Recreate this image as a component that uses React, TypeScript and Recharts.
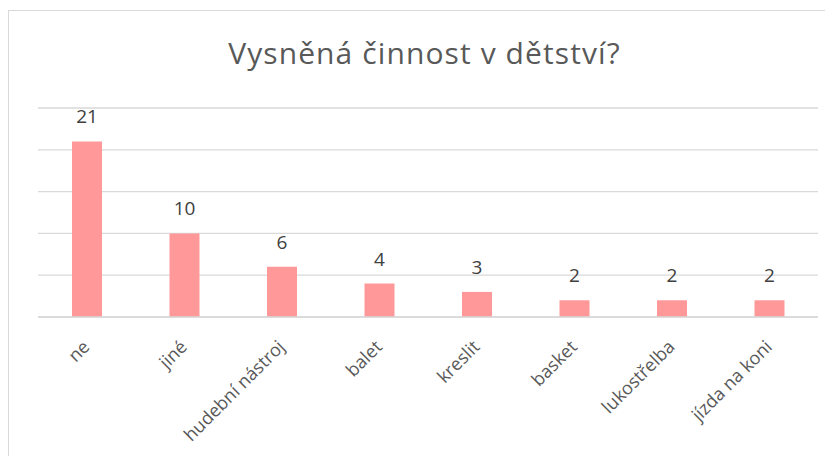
import React from "react";
import { BarChart, Bar, XAxis, YAxis, CartesianGrid, LabelList } from "recharts";

// data
const categories = ["ne", "jiné", "hudební nástroj", "balet", "kreslit", "basket", "lukostřelba", "jízda na koni"];
const counts = [21, 10, 6, 4, 3, 2, 2, 2];
const yTicks = [0, 5, 10, 15, 20, 25];

const data = categories.map((name, i) => ({ name, count: counts[i] }));

const FONT = "'Open Sans', 'Noto Sans', sans-serif";

// @ts-ignore
function SlantedTick(props) {
  const { x, y, payload } = props;
  const ax = x + 4;
  const ay = y + 29;
  return (
    <text
      x={ax}
      y={ay}
      textAnchor="end"
      fill="#595959"
      fontSize={18}
      fontFamily={FONT}
      transform={`rotate(-45, ${ax}, ${ay})`}
    >
      {payload.value}
    </text>
  );
}

export default function App() {
  return (
    <div
      style={{
        position: "relative",
        marginTop: 2,
        width: 825,
        height: 446,
        boxSizing: "border-box",
        borderLeft: "1px solid #d9d9d9",
        borderTop: "1px solid #d9d9d9",
        background: "#fff",
      }}
    >
      <div
        style={{
          position: "absolute",
          left: 0,
          top: 21,
          width: 825,
          paddingLeft: 6,
          boxSizing: "border-box",
          textAlign: "center",
          fontFamily: FONT,
          fontSize: 30,
          letterSpacing: 1.1,
          color: "#595959",
          lineHeight: "normal",
        }}
      >
        Vysněná činnost v dětství?
      </div>
      <BarChart
        width={824}
        height={445}
        data={data}
        margin={{ top: 97, right: 15, left: 29, bottom: 0 }}
      >
        <CartesianGrid vertical={false} stroke="#d9d9d9" strokeWidth={1.3} />
        <XAxis
          dataKey="name"
          height={139}
          interval={0}
          axisLine={{ stroke: "#d9d9d9", strokeWidth: 1.3 }}
          tickLine={false}
          tickSize={0}
          tick={<SlantedTick />}
        />
        <YAxis hide domain={[0, 25]} ticks={yTicks} />
        <Bar dataKey="count" fill="#ff9999" barSize={30} isAnimationActive={false}>
          <LabelList
            dataKey="count"
            position="top"
            offset={18}
            fill="#404040"
            fontSize={19}
            fontFamily={FONT}
          />
        </Bar>
      </BarChart>
    </div>
  );
}
